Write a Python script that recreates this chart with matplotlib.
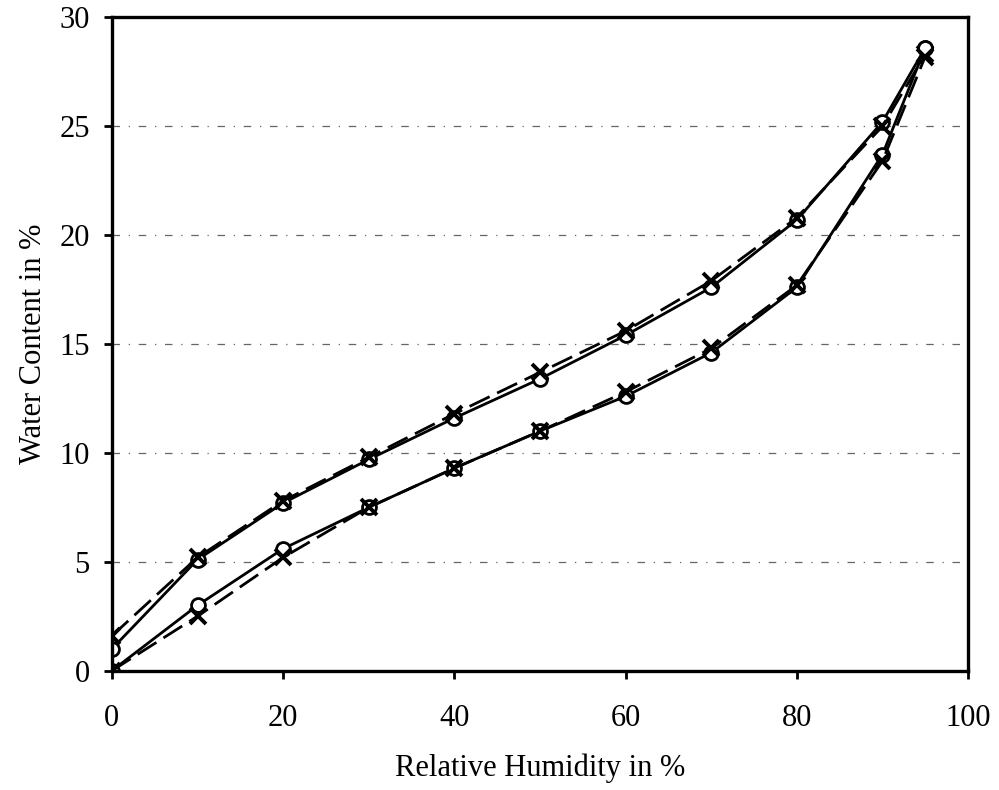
import numpy as np
import matplotlib.pyplot as plt

plt.rcParams['font.family'] = ['Liberation Serif', 'DejaVu Serif']

rh = [0, 10, 20, 30, 40, 50, 60, 70, 80, 90, 95]

# desorption (upper branch)
des_o = [1.0, 5.1, 7.7, 9.7, 11.6, 13.4, 15.4, 17.6, 20.7, 25.2, 28.6]
des_x = [1.6, 5.2, 7.8, 9.8, 11.8, 13.7, 15.6, 17.9, 20.8, 25.0, 28.3]

# adsorption (lower branch)
ads_o = [0.0, 3.0, 5.6, 7.5, 9.3, 11.0, 12.6, 14.6, 17.6, 23.7, 28.6]
ads_x = [0.0, 2.5, 5.2, 7.5, 9.3, 11.0, 12.8, 14.8, 17.7, 23.4, 28.2]

fig = plt.figure(figsize=(9.99, 7.9), dpi=100)
ax = fig.add_axes([0.112, 0.151, 0.857, 0.827])

for yv in [5, 10, 15, 20, 25]:
    ax.axhline(yv, color='0.4', lw=0.9, ls=(0, (6, 7, 1, 7)), zorder=0)

ax.plot(rh, des_o, 'k-', lw=2, marker='o', ms=10, mfc='white', mec='k', mew=2)
ax.plot(rh, des_x, 'k--', lw=2, marker='x', ms=11, mew=2.8, dashes=(8, 3))
ax.plot(rh, ads_o, 'k-', lw=2, marker='o', ms=10, mfc='white', mec='k', mew=2)
ax.plot(rh, ads_x, 'k--', lw=2, marker='x', ms=11, mew=2.8, dashes=(8, 3))

ax.set_xlim(0, 100)
ax.set_ylim(0, 30)
ax.set_xticks([0, 20, 40, 60, 80, 100])
ax.set_yticks([0, 5, 10, 15, 20, 25, 30])
ax.tick_params(direction='out', length=6, width=2, labelsize=22)
ax.tick_params(axis='x', pad=18)
ax.tick_params(axis='y', pad=10)
for s in ax.spines.values():
    s.set_linewidth(2.4)

ax.set_xlabel('Relative Humidity in %', fontsize=22, labelpad=15)
ax.set_ylabel('Water Content in %', fontsize=22, labelpad=8)

fig.savefig('out.png', dpi=100)
